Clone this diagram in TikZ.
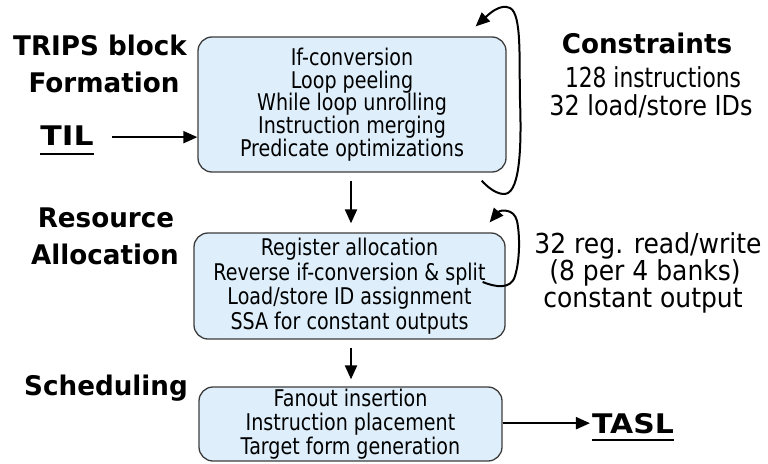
\documentclass[tikz,border=0pt]{standalone}
\usepackage{fontspec}
\setmainfont{DejaVu Sans}[FakeStretch=0.83]
\newfontfamily\notefont{DejaVu Sans}[FakeStretch=0.91]
\newfontfamily\headfont{DejaVu Sans}[FakeStretch=0.97]
\usetikzlibrary{arrows.meta}
\definecolor{boxblue}{RGB}{222,239,251}
\definecolor{boxline}{RGB}{60,60,60}
\tikzset{
  box/.style={draw=boxline, line width=1.3pt, fill=boxblue, rounded corners=14pt,
    align=center, inner sep=0pt},
  head/.style={font=\headfont\bfseries\fontsize{27}{32}\selectfont, inner sep=0pt, anchor=base},
  note/.style={font=\notefont\fontsize{27.5}{27}\selectfont, inner sep=0pt, anchor=base},
  arr/.style={line width=2pt, -{Triangle[length=14pt,width=12pt]}},
  uline/.style={line width=2pt}
}
\begin{document}
\begin{tikzpicture}[x=1pt,y=-1pt]
\useasboundingbox (0,0) rectangle (768,463);
% boxes
\node[box, minimum width=308pt, minimum height=135pt,
  font=\fontsize{23}{22.8}\selectfont] (b1) at (352,104.5)
  {If-conversion\\Loop peeling\\While loop unrolling\\Instruction merging\\Predicate optimizations};
\node[box, minimum width=311pt, minimum height=106pt,
  font=\fontsize{23}{24.5}\selectfont] (b2) at (349.5,286)
  {Register allocation\\Reverse if-conversion \& split\\Load/store ID assignment\\SSA for constant outputs};
\node[box, minimum width=303pt, minimum height=74pt,
  font=\fontsize{23}{24}\selectfont] (b3) at (350.5,424)
  {Fanout insertion\\Instruction placement\\Target form generation};
% left headings
\node[head] (h1) at (100,55) {TRIPS block};
\node[head] (h2) at (104,92) {Formation};
\node[head] (til) at (67,145) {\scalebox{1.2}[1]{TIL}};
\node[head] (h3) at (106,227) {Resource};
\node[head] (h4) at (105,264) {Allocation};
\node[head] (h5) at (106,395) {Scheduling};
\node[head, inner xsep=2pt] (tasl) at (633,433) {\scalebox{1.14}[1]{TASL}};
\draw[uline] ([yshift=-9pt]til.base west) -- ([yshift=-9pt]til.base east);
\draw[uline] ([yshift=-7pt,xshift=2pt]tasl.base west) -- ([yshift=-7pt,xshift=-2pt]tasl.base east);
% right notes
\node[head] (cons) at (647,53) {Constraints};
\node[note] (n1) at (653,87) {\scalebox{0.87}[1]{128 instructions}};
\node[note] (n2) at (651,115) {\scalebox{0.955}[1]{32 load/store IDs}};
\node[note] (n3) at (648,253) {32 reg. read/write};
\node[note] (n4) at (645,280) {(8 per 4 banks)};
\node[note] (n5) at (643,307) {constant output};
% straight arrows
\draw[arr] ([xshift=18pt,yshift=-2pt]til.east) -- ([yshift=-2pt]til.east -| b1.west);
\draw[arr] ([xshift=-1pt,yshift=-8pt]b1.south) -- ([xshift=-1pt,yshift=9pt]b1.south |- b2.north);
\draw[arr] ([xshift=1.5pt,yshift=-8pt]b2.south) -- ([xshift=1.5pt,yshift=7pt]b2.south |- b3.north);
\draw[arr] (tasl.west -| b3.east) -- (tasl.west);
% feedback arrows
\draw[arr] ([xshift=-25pt,yshift=-8pt]b1.south east)
  .. controls (492,192) and (502,196) .. (508,193)
  .. controls (522,185) and (521,130) .. (520,100)
  .. controls (519,60) and (522,14) .. (510,8)
  .. controls (500,3) and (488,15) .. ([xshift=-31pt,yshift=10pt]b1.north east);
\draw[arr] ([xshift=-23pt,yshift=4pt]b2.east)
  .. controls (495,287) and (511,290) .. (515,276)
  .. controls (520,260) and (520,235) .. (517,221)
  .. controls (514,208) and (500,210) .. ([xshift=-16pt,yshift=10pt]b2.north east);
\end{tikzpicture}
\end{document}
